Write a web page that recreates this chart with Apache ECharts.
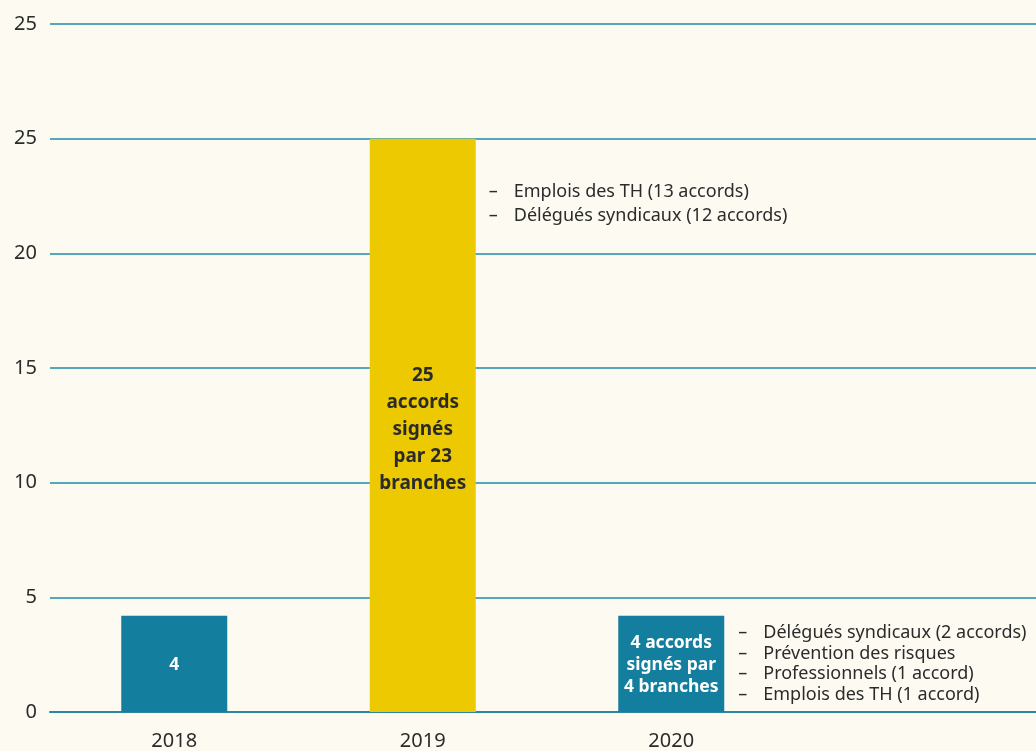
<!DOCTYPE html>
<html>
<head>
<meta charset="utf-8">
<script src="https://cdn.jsdelivr.net/npm/echarts@6/dist/echarts.min.js"></script>
<style>
  html, body { margin: 0; padding: 0; background: #fdfaf2; overflow: hidden; }
  #chart { width: 1044px; height: 751px; }
</style>
</head>
<body>
<div id="chart"></div>
<script>
// données
var years = ['2018', '2019', '2020', '']
var accords = [4.2, 25, 4.2, null]
var barLabels = ['4', '25\naccords\nsignés\npar 23\nbranches', '4 accords\nsignés par\n4 branches', '']
var yTicks = ['0', '5', '10', '15', '20', '25', '25']
var notes2019 = ['Emplois des TH (13 accords)', 'Délégués syndicaux (12 accords)']
var notes2020 = ['Délégués syndicaux (2 accords)', 'Prévention des risques', 'Professionnels (1 accord)', 'Emplois des TH (1 accord)']

var teal = '#137e9e'
var jaune = '#ecc900'
var police = '"Noto Sans", "Open Sans", sans-serif'

var chart = echarts.init(document.getElementById('chart'))

var option = {
    backgroundColor: '#fdfaf2',
    animation: false,
    grid: {
        left: 50,
        right: 0,
        top: 24,
        bottom: 39
    },
    xAxis: {
        type: 'category',
        data: years,
        axisLine: { show: true, lineStyle: { color: '#2a87a2', width: 2 } },
        axisTick: { show: false },
        axisLabel: {
            color: '#2b2b2b',
            fontSize: 20,
            fontFamily: police,
            margin: 19
        }
    },
    yAxis: {
        type: 'value',
        min: 0,
        max: 30,
        interval: 5,
        axisLine: { show: false },
        axisTick: { show: false },
        axisLabel: {
            color: '#2b2b2b',
            fontSize: 20,
            fontFamily: police,
            margin: 13,
            formatter: function (v) { return yTicks[v / 5] }
        },
        splitLine: {
            lineStyle: { color: '#55a8bc', width: 2 }
        }
    },
    series: [{
        type: 'bar',
        barWidth: 106,
        data: accords.map(function (v, i) {
            var fonce = i === 1
            return {
                value: v,
                itemStyle: { color: fonce ? jaune : teal },
                label: {
                    show: true,
                    position: 'inside',
                    formatter: barLabels[i],
                    color: fonce ? '#2b2b2b' : '#ffffff',
                    fontWeight: 'bold',
                    fontSize: fonce ? 19 : 17.5,
                    lineHeight: fonce ? 27 : 22,
                    fontFamily: police,
                    align: 'center',
                    offset: fonce ? [0, 4] : [0, 1]
                }
            }
        })
    }]
}
chart.setOption(option)

// annotations à droite des barres
function notes(cat, val, lignes, lh, dy, dx) {
    var p = chart.convertToPixel({ xAxisIndex: 0, yAxisIndex: 0 }, [cat, val])
    return {
        type: 'text',
        left: p[0] + 53 + dx,
        top: p[1] + dy,
        style: {
            text: lignes.map(function (t) { return '{d|–}' + t }).join('\n'),
            fill: '#2b2b2b',
            fontFamily: police,
            fontSize: 18,
            lineHeight: lh,
            rich: {
                d: { width: 25, fontSize: 18, fontFamily: police, fill: '#2b2b2b', lineHeight: lh }
            }
        }
    }
}

chart.setOption({
    graphic: [
        notes('2019', accords[1], notes2019, 24, 41, 13),
        notes('2020', accords[2], notes2020, 20.5, 7, 14)
    ]
})
</script>
</body>
</html>
